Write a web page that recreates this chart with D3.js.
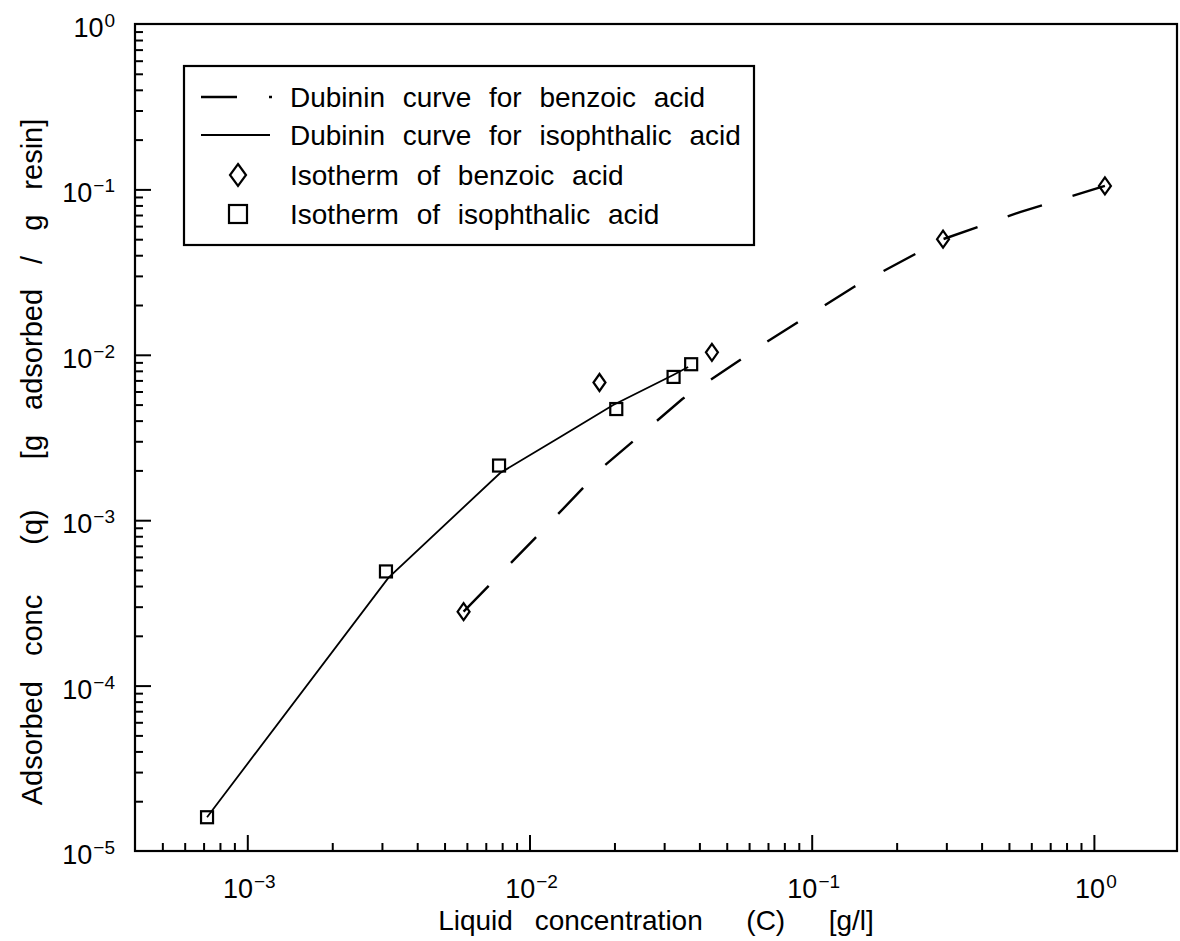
<!DOCTYPE html>
<html><head><meta charset="utf-8">
<script src="https://cdn.jsdelivr.net/npm/d3@7"></script>
<style>
html,body{margin:0;padding:0;background:#fff}
svg{display:block}
text{font-family:"Liberation Sans",Arial,sans-serif;fill:#000}
</style></head><body>
<svg id="chart" width="1180" height="941"></svg>
<script>
// Measured isotherms (liquid conc C in g/l, adsorbed q in g/g resin)
const isoC   = [7.2e-4, 3.1e-3, 7.8e-3, 2.03e-2, 3.24e-2, 3.74e-2];
const isoQ   = [1.6e-5, 4.9e-4, 2.14e-3, 4.7e-3, 7.35e-3, 8.77e-3];
const benzC  = [5.84e-3, 1.77e-2, 4.43e-2, 0.292, 1.094];
const benzQ  = [2.8e-4, 6.8e-3, 1.035e-2, 0.050, 0.105];

// Dubinin model curves
const dubIsoC  = [7.2e-4, 3.16e-3, 7.87e-3, 1.285e-2, 1.98e-2, 3.23e-2, 3.65e-2];
const dubIsoQ  = [1.6e-5, 4.48e-4, 1.93e-3, 3.18e-3, 4.97e-3, 7.55e-3, 8.43e-3];
const dubBenzC = [5.84e-3, 1.047e-2, 1.84e-2, 3.48e-2, 6.84e-2, 0.141, 0.292, 0.547, 1.094];
const dubBenzQ = [2.8e-4, 7.8e-4, 2.13e-3, 5.40e-3, 1.18e-2, 2.57e-2, 0.050, 7.29e-2, 0.105];

// Axes
const xDomain = [4e-4, 1.97];
const yDomain = [1e-5, 1];
const xMajor = [1e-3, 1e-2, 1e-1, 1];
const xExponents = ["\u22123", "\u22122", "\u22121", "0"];
const yMajor = [1e-5, 1e-4, 1e-3, 1e-2, 1e-1, 1];
const yExponents = ["\u22125", "\u22124", "\u22123", "\u22122", "\u22121", "0"];
const xTitle = "Liquid concentration  (C)  [g/l]";
const yTitle = "Adsorbed conc  (q)  [g adsorbed / g resin]";
const legendLabels = [
  "Dubinin curve for benzoic acid",
  "Dubinin curve for isophthalic acid",
  "Isotherm of benzoic acid",
  "Isotherm of isophthalic acid"
];

const L = 135, R = 1177, T = 24, B = 851;
const svg = d3.select("#chart");
svg.append("rect").attr("width", 1180).attr("height", 941).attr("fill", "#fff");

const x = d3.scaleLog().domain(xDomain).range([L, R]);
const y = d3.scaleLog().domain(yDomain).range([B, T]);

// minor ticks: 2..9 within each decade
function minors(dom) {
  const out = [];
  for (let e = Math.floor(Math.log10(dom[0])); e <= Math.ceil(Math.log10(dom[1])); e++) {
    for (let m = 2; m <= 9; m++) {
      const v = m * Math.pow(10, e);
      if (v > dom[0] * 1.0001 && v < dom[1] * 0.999) out.push(v);
    }
  }
  return out;
}

function styleAxis(g) {
  g.select(".domain").remove();
  g.selectAll(".tick line").attr("stroke", "#000").attr("stroke-width", 2);
  g.selectAll(".tick text").remove();
}

svg.append("g").attr("transform", `translate(0,${B})`)
  .call(d3.axisBottom(x).tickValues(minors(xDomain)).tickSize(-8).tickFormat(""))
  .call(styleAxis);
svg.append("g").attr("transform", `translate(0,${B})`)
  .call(d3.axisBottom(x).tickValues(xMajor).tickSize(-16).tickFormat(""))
  .call(styleAxis);
svg.append("g").attr("transform", `translate(${L},0)`)
  .call(d3.axisLeft(y).tickValues(minors(yDomain)).tickSize(-8).tickFormat(""))
  .call(styleAxis);
svg.append("g").attr("transform", `translate(${L},0)`)
  .call(d3.axisLeft(y).tickValues(yMajor.filter(v => v > yDomain[0] && v < yDomain[1])).tickSize(-16).tickFormat(""))
  .call(styleAxis);

// frame
svg.append("rect").attr("x", L).attr("y", T).attr("width", R - L).attr("height", B - T)
  .attr("fill", "none").attr("stroke", "#000").attr("stroke-width", 2.2);

// tick labels 10^n
function powLabel(sel, exps) {
  sel.each(function (d, i) {
    const t = d3.select(this);
    t.append("tspan").text("10");
    t.append("tspan").attr("font-size", 19).attr("dy", -10).attr("dx", 1).text(exps[i]);
  });
}
svg.selectAll("text.xl").data(xMajor).join("text").attr("class", "xl")
  .attr("x", d => x(d) + 2).attr("y", B + 47).attr("text-anchor", "middle")
  .attr("font-size", 27).call(powLabel, xExponents);
svg.selectAll("text.yl").data(yMajor).join("text").attr("class", "yl")
  .attr("x", 115).attr("y", d => y(d) + 13).attr("text-anchor", "end")
  .attr("font-size", 27).call(powLabel, yExponents);

// axis titles
svg.append("text").attr("x", 656).attr("y", 930).attr("text-anchor", "middle")
  .attr("font-size", 28).style("white-space", "pre").style("word-spacing", "14px").text(xTitle);
svg.append("text").attr("transform", `translate(42,462) rotate(-90)`)
  .attr("text-anchor", "middle").attr("font-size", 29)
  .style("white-space", "pre").style("word-spacing", "17px").text(yTitle);

// curves
const line = d3.line().x(d => x(d[0])).y(d => y(d[1]));
svg.append("path").datum(d3.zip(dubIsoC, dubIsoQ)).attr("d", line)
  .attr("fill", "none").attr("stroke", "#000").attr("stroke-width", 1.8);
svg.append("path").datum(d3.zip(dubBenzC, dubBenzQ)).attr("d", line)
  .attr("fill", "none").attr("stroke", "#000").attr("stroke-width", 2.4)
  .attr("stroke-dasharray", "36,32");

// markers
const diamond = (w, h) => `M0,${-h / 2}L${w / 2},0L0,${h / 2}L${-w / 2},0Z`;
svg.selectAll("rect.sq").data(d3.zip(isoC, isoQ)).join("rect").attr("class", "sq")
  .attr("x", d => x(d[0]) - 6).attr("y", d => y(d[1]) - 6).attr("width", 12).attr("height", 12)
  .attr("fill", "none").attr("stroke", "#000").attr("stroke-width", 2.2);
svg.selectAll("path.dm").data(d3.zip(benzC, benzQ)).join("path").attr("class", "dm")
  .attr("transform", d => `translate(${x(d[0])},${y(d[1])})`).attr("d", diamond(12, 17))
  .attr("fill", "none").attr("stroke", "#000").attr("stroke-width", 2.2);

// legend
const lg = svg.append("g");
lg.append("rect").attr("x", 184).attr("y", 66).attr("width", 570).attr("height", 179)
  .attr("fill", "#fff").attr("stroke", "#000").attr("stroke-width", 2.2);
const rowY = [97, 135, 175, 214];
lg.append("line").attr("x1", 201).attr("x2", 272).attr("y1", rowY[0]).attr("y2", rowY[0])
  .attr("stroke", "#000").attr("stroke-width", 2.4).attr("stroke-dasharray", "36,32");
lg.append("line").attr("x1", 201).attr("x2", 270).attr("y1", rowY[1]).attr("y2", rowY[1])
  .attr("stroke", "#000").attr("stroke-width", 1.8);
lg.append("path").attr("transform", `translate(238,${rowY[2]})`).attr("d", diamond(16, 22))
  .attr("fill", "none").attr("stroke", "#000").attr("stroke-width", 2.2);
lg.append("rect").attr("x", 229).attr("y", rowY[3] - 9).attr("width", 18).attr("height", 18)
  .attr("fill", "none").attr("stroke", "#000").attr("stroke-width", 2.2);
lg.selectAll("text.lt").data(legendLabels).join("text").attr("class", "lt")
  .attr("x", 290).attr("y", (d, i) => rowY[i] + 10).attr("font-size", 28)
  .style("word-spacing", "10px").text(d => d);
</script>
</body></html>
